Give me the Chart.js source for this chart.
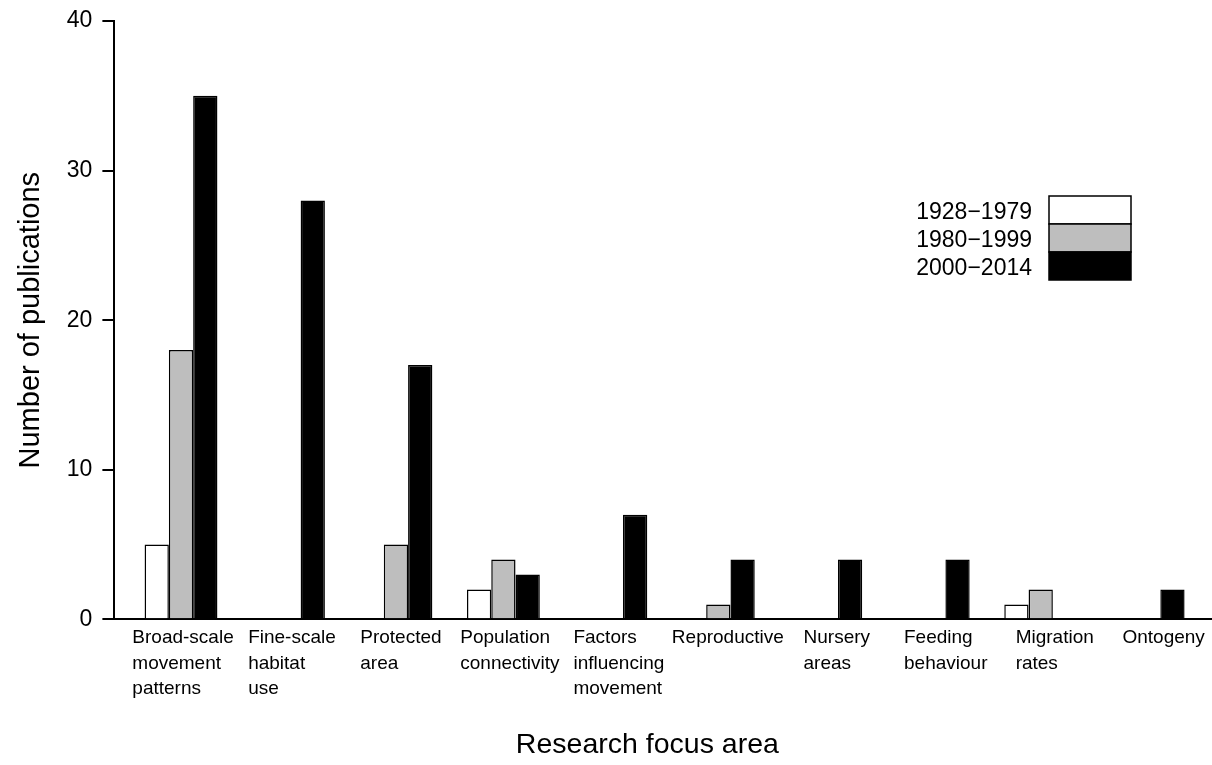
<!DOCTYPE html>
<html>
<head>
<meta charset="utf-8">
<script src="https://cdn.jsdelivr.net/npm/chart.js@4/dist/chart.umd.min.js"></script>
<style>
html,body{margin:0;padding:0;background:#ffffff;}
#wrap{width:1212px;height:765px;}
</style>
</head>
<body>
<div id="wrap"><canvas id="c" width="1212" height="765"></canvas></div>
<script>
// ---- data ----
const categories = [
  ["Broad-scale","movement","patterns"],
  ["Fine-scale","habitat","use"],
  ["Protected","area"],
  ["Population","connectivity"],
  ["Factors","influencing","movement"],
  ["Reproductive"],
  ["Nursery","areas"],
  ["Feeding","behaviour"],
  ["Migration","rates"],
  ["Ontogeny"]
];
const periods = ["1928\u22121979","1980\u22121999","2000\u22122014"];
const values1928 = [5, 0, 0, 2, 0, 0, 0, 0, 1, 0];
const values1980 = [18, 0, 5, 4, 0, 1, 0, 0, 2, 0];
const values2000 = [35, 28, 17, 3, 7, 4, 4, 4, 0, 2];
const yTicks = [0, 10, 20, 30, 40];

// ---- styles ----
const FONT = "'Liberation Sans', Arial, Helvetica, sans-serif";
const fills = ["#ffffff", "#bebebe", "#000000"];
const seriesList = [values1928, values1980, values2000];

Chart.defaults.font.family = FONT;
Chart.defaults.color = "#000";

const labelPlacer = {
  id: "labelPlacer",
  beforeDraw(chart) {
    const x = chart.scales.x, ctx = chart.ctx;
    ctx.save();
    ctx.font = "19px " + FONT;
    x.ticks = categories.map((lines, i) => {
      const w = Math.max(...lines.map(l => ctx.measureText(l).width));
      const px = x.getPixelForValue(i) - w / 2 + 2 + 1.5 * i;
      return { value: x.getValueForPixel(px), label: lines };
    });
    ctx.restore();
    x._labelItems = null;
  }
};

const boxLegend = {
  id: "boxLegend",
  afterDraw(chart, args, o) {
    const ctx = chart.ctx;
    ctx.save();
    chart.data.datasets.forEach((ds, k) => {
      const y = o.top + k * o.h;
      ctx.fillStyle = ds.backgroundColor;
      ctx.fillRect(o.left, y, o.w, o.h);
      ctx.strokeStyle = "#000";
      ctx.lineWidth = 1.5;
      ctx.strokeRect(o.left, y, o.w, o.h);
      ctx.fillStyle = "#000";
      ctx.font = "23px " + FONT;
      ctx.textAlign = "right";
      ctx.textBaseline = "middle";
      ctx.fillText(ds.label, o.left - o.gap, y + o.h / 2 + 3);
    });
    ctx.restore();
  }
};

new Chart(document.getElementById("c"), {
  type: "bar",
  data: {
    datasets: periods.map((p, k) => ({
      label: p,
      data: seriesList[k].map((v, i) => ({ x: i, y: v })),
      backgroundColor: fills[k],
      borderColor: "#000",
      borderWidth: 1.5,
      borderSkipped: "start",
      categoryPercentage: 0.678,
      barPercentage: 1
    }))
  },
  options: {
    responsive: false,
    animation: false,
    layout: { padding: { top: 21, left: 0, right: 0, bottom: 0 } },
    plugins: {
      legend: { display: false },
      tooltip: { enabled: false },
      boxLegend: { left: 1049, top: 196, w: 82, h: 28, gap: 17 }
    },
    scales: {
      x: {
        type: "linear",
        offset: false,
        min: -0.62,
        max: 9.594,
        afterBuildTicks: s => { s.ticks = categories.map((_, i) => ({ value: i })); },
        afterFit: s => { s.paddingLeft = 0; s.paddingRight = 0; },
        ticks: {
          callback: (v, i) => categories[i],
          font: { size: 19, lineHeight: 1.35 },
          align: "start",
          padding: 5.5,
          autoSkip: false,
          maxRotation: 0,
          minRotation: 0,
          color: "#000"
        },
        grid: { display: false, drawTicks: false, offset: false },
        border: { display: true, color: "#000", width: 2 },
        title: {
          display: true,
          text: "Research focus area    ",
          font: { size: 28.5 },
          color: "#000",
          padding: { top: 20.5, bottom: 3 }
        }
      },
      y: {
        min: 0,
        max: 40,
        afterBuildTicks: s => { s.ticks = yTicks.map(v => ({ value: v })); },
        afterFit: s => { s.paddingTop = 0; s.paddingBottom = 0; },
        ticks: { font: { size: 23 }, padding: 10, color: "#000" },
        grid: { drawOnChartArea: false, drawTicks: true, tickLength: 12, color: "#000", lineWidth: 2 },
        border: { display: true, color: "#000", width: 2 },
        title: {
          display: true,
          text: "Number of publications",
          font: { size: 29 },
          color: "#000",
          padding: { top: 13.5, bottom: 8.5 }
        }
      }
    }
  },
  plugins: [labelPlacer, boxLegend]
});
</script>
</body>
</html>
